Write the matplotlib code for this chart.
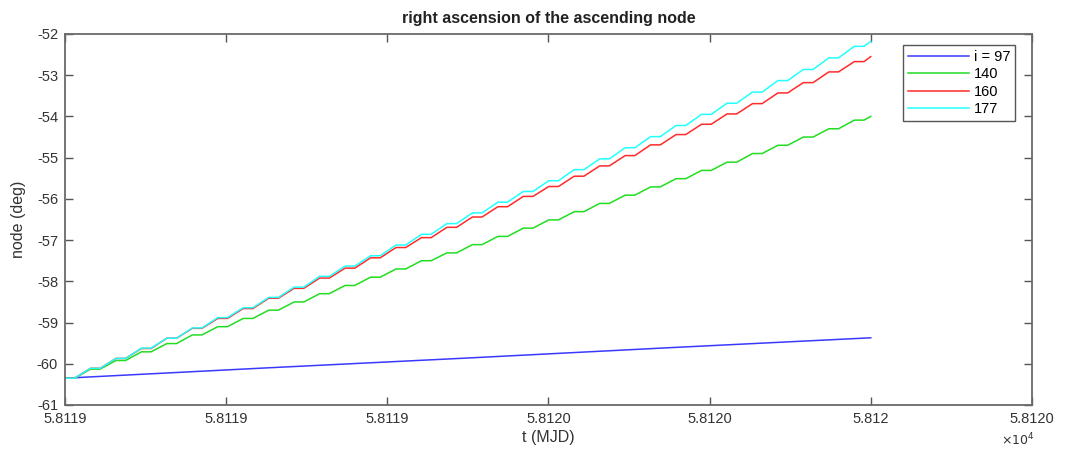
import numpy as np
import matplotlib
matplotlib.use("Agg")
import matplotlib.pyplot as plt

# start epoch of the propagation (MJD) and sample times in days after it
mjd0 = 58119.0
t_days = [0.0000, 0.0120, 0.0316, 0.0436, 0.0632, 0.0752, 0.0948, 0.1068,
          0.1264, 0.1384, 0.1580, 0.1700, 0.1896, 0.2016, 0.2212, 0.2332,
          0.2528, 0.2648, 0.2844, 0.2964, 0.3160, 0.3280, 0.3476, 0.3596,
          0.3792, 0.3912, 0.4108, 0.4228, 0.4424, 0.4544, 0.4740, 0.4860,
          0.5056, 0.5176, 0.5372, 0.5492, 0.5688, 0.5808, 0.6004, 0.6124,
          0.6320, 0.6440, 0.6636, 0.6756, 0.6952, 0.7072, 0.7268, 0.7388,
          0.7584, 0.7704, 0.7900, 0.8020, 0.8216, 0.8336, 0.8532, 0.8652,
          0.8848, 0.8968, 0.9164, 0.9284, 0.9480, 0.9600, 0.9796, 0.9916,
          1.0000]

# node (deg) for i = 140, 160, 177 at the times above
node_140 = [-60.35, -60.35, -60.13, -60.13, -59.92, -59.92, -59.71, -59.71,
            -59.51, -59.51, -59.30, -59.30, -59.10, -59.10, -58.90, -58.90,
            -58.70, -58.70, -58.50, -58.50, -58.30, -58.30, -58.10, -58.10,
            -57.90, -57.90, -57.70, -57.70, -57.50, -57.50, -57.31, -57.31,
            -57.11, -57.11, -56.91, -56.91, -56.71, -56.71, -56.51, -56.51,
            -56.31, -56.31, -56.11, -56.11, -55.91, -55.91, -55.71, -55.71,
            -55.51, -55.51, -55.31, -55.31, -55.11, -55.11, -54.90, -54.90,
            -54.70, -54.70, -54.50, -54.50, -54.30, -54.30, -54.09, -54.09,
            -54.00]
node_160 = [-60.35, -60.35, -60.11, -60.11, -59.87, -59.87, -59.63, -59.63,
            -59.38, -59.38, -59.14, -59.14, -58.90, -58.90, -58.66, -58.66,
            -58.41, -58.41, -58.17, -58.17, -57.92, -57.92, -57.68, -57.68,
            -57.43, -57.43, -57.18, -57.18, -56.94, -56.94, -56.69, -56.69,
            -56.44, -56.44, -56.19, -56.19, -55.94, -55.94, -55.70, -55.70,
            -55.45, -55.45, -55.20, -55.20, -54.95, -54.95, -54.69, -54.69,
            -54.44, -54.44, -54.19, -54.19, -53.94, -53.94, -53.69, -53.69,
            -53.43, -53.43, -53.18, -53.18, -52.92, -52.92, -52.67, -52.67,
            -52.55]
node_177 = [-60.35, -60.35, -60.11, -60.11, -59.87, -59.87, -59.62, -59.62,
            -59.38, -59.38, -59.13, -59.13, -58.88, -58.88, -58.64, -58.64,
            -58.39, -58.39, -58.14, -58.14, -57.88, -57.88, -57.63, -57.63,
            -57.38, -57.38, -57.12, -57.12, -56.86, -56.86, -56.60, -56.60,
            -56.34, -56.34, -56.08, -56.08, -55.82, -55.82, -55.56, -55.56,
            -55.29, -55.29, -55.03, -55.03, -54.76, -54.76, -54.49, -54.49,
            -54.22, -54.22, -53.95, -53.95, -53.68, -53.68, -53.41, -53.41,
            -53.13, -53.13, -52.86, -52.86, -52.58, -52.58, -52.30, -52.30,
            -52.18]

# i = 97 barely moves, a few samples are enough
t_days_97 = [0.0, 0.25, 0.5, 0.75, 1.0]
node_97 = [-60.35, -60.10, -59.86, -59.61, -59.37]

labels = ["i = 97", "140", "160", "177"]
colors = ["#3a3aff", "#22dd22", "#ff2a2a", "#22ffff"]

xticks = [58119.0, 58119.2, 58119.4, 58119.6, 58119.8, 58120.0, 58120.2]
xticklabels = ["5.8119", "5.8119", "5.8119", "5.8120", "5.8120", "5.812", "5.8120"]
yticks = list(range(-61, -51))

plt.rcParams['font.family'] = ['Liberation Sans', 'DejaVu Sans']
plt.rcParams['axes.unicode_minus'] = False

fig = plt.figure(figsize=(10.66, 4.5), dpi=100)
ax = fig.add_axes([0.061, 0.1, 0.907, 0.8245])

t = mjd0 + np.array(t_days)
t97 = mjd0 + np.array(t_days_97)
ax.plot(t97, node_97, color=colors[0], lw=1.1, label=labels[0])
ax.plot(t, node_140, color=colors[1], lw=1.1, label=labels[1], solid_joinstyle="round")
ax.plot(t, node_160, color=colors[2], lw=1.1, label=labels[2], solid_joinstyle="round")
ax.plot(t, node_177, color=colors[3], lw=1.1, label=labels[3], solid_joinstyle="round")

ax.set_xlim(58119.0, 58120.2)
ax.set_ylim(-61, -52)
ax.set_xticks(xticks)
ax.set_xticklabels(xticklabels)
ax.set_yticks(yticks)

ax.tick_params(direction="in", length=6, width=1, colors="#555555",
               labelcolor="#333333", labelsize=10.5, top=True, right=True, pad=5)
for s in ax.spines.values():
    s.set_color("#6a6a6a")
    s.set_linewidth(1.3)

ax.set_title("right ascension of the ascending node", fontsize=11.5,
             fontweight="bold", color="#222222", pad=8)
ax.set_xlabel("t (MJD)", fontsize=11.5, color="#333333", labelpad=3)
ax.set_ylabel("node (deg)", fontsize=11.5, color="#333333", labelpad=8)
ax.text(0.985, -0.094, r"$\times10^4$", transform=ax.transAxes, ha="center",
        va="center", fontsize=9, color="#333333")

leg = ax.legend(loc="upper right", bbox_to_anchor=(0.983, 0.97), fontsize=10.5,
                handlelength=4.2, handletextpad=0.3, borderpad=0.35,
                labelspacing=0.22, fancybox=False, framealpha=1,
                edgecolor="#555555", borderaxespad=0)
leg.get_frame().set_linewidth(1.0)

fig.savefig("out.png", dpi=100)
